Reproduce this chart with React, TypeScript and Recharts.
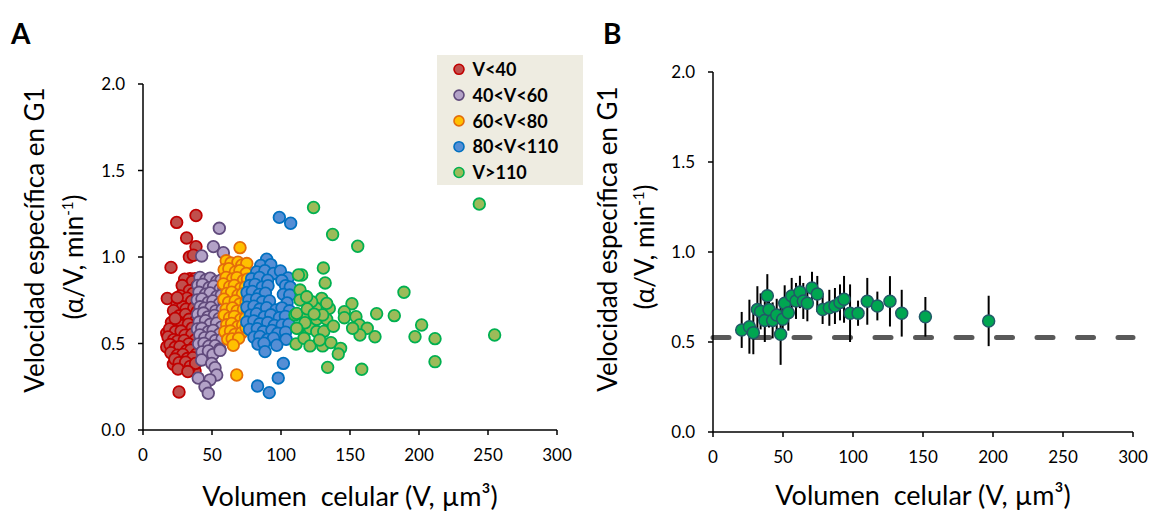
import React from "react";
import { ScatterChart, Scatter, XAxis, YAxis, ErrorBar, ReferenceLine } from "recharts";

const FONT = "Lato, 'Open Sans', sans-serif";

const xTicks = [0, 50, 100, 150, 200, 250, 300];
const yTicks = [0, 0.5, 1, 1.5, 2];

// Panel A: volume (um3) vs specific rate, grouped by volume class
const redPts: [number, number][] = [
  [38.4, 1.24], [24.4, 1.2], [31.6, 1.11], [38.4, 1.06], [33.6, 1.0], [36.5, 1.01], [20.3, 0.94],
  [34, 0.875], [37.7, 0.875], [17.6, 0.76], [26.8, 0.77], [26.1, 0.22], [37.7, 0.34], [29.2, 0.37],
  [22, 0.38], [17.2, 0.48], [17.2, 0.56],
  [30.2, 0.872], [35.8, 0.858], [38.9, 0.83], [28.4, 0.835], [33.6, 0.805], [36.4, 0.79], [27.1, 0.775],
  [31.9, 0.762], [35.3, 0.745], [39.6, 0.758], [24.6, 0.728], [28.7, 0.712], [31.2, 0.698], [36.8, 0.705],
  [39.1, 0.682], [22.1, 0.69], [26.4, 0.66], [30.8, 0.668], [33.5, 0.64], [38.3, 0.632], [20.6, 0.622],
  [25.2, 0.628], [28.1, 0.603], [32.9, 0.612], [35.7, 0.589], [39.8, 0.575], [19.2, 0.584], [23.6, 0.569],
  [27.6, 0.572], [30.4, 0.548], [35.4, 0.552], [37.9, 0.521], [18.1, 0.538], [22.2, 0.522], [25.1, 0.514],
  [29.9, 0.518], [33.1, 0.497], [37.2, 0.482], [19.6, 0.494], [23.4, 0.478], [26.7, 0.482], [31.6, 0.458],
  [34.6, 0.462], [38.7, 0.438], [20.2, 0.447], [24.9, 0.432], [28.9, 0.437], [32.2, 0.413], [36.1, 0.418],
  [23.1, 0.41], [26.2, 0.389], [30.9, 0.392], [34.3, 0.368], [38.1, 0.385], [25.4, 0.352], [32.5, 0.338],
  [23.3, 0.645], [24.8, 0.765],
];

const purplePts: [number, number][] = [
  [42.5, 1.006], [51, 1.06], [58.2, 1.025], [55.3, 1.166],
  [41.3, 0.882], [45.6, 0.868], [48.7, 0.878], [53.4, 0.859], [56.6, 0.866],
  [39.8, 0.836], [43.1, 0.842], [47.9, 0.823], [51.2, 0.831], [55.9, 0.814], [58.6, 0.818],
  [40.6, 0.796], [45.4, 0.785], [48.6, 0.792], [53.5, 0.772], [56.7, 0.778],
  [39.3, 0.752], [42.7, 0.758], [47.4, 0.738], [50.6, 0.746], [55.3, 0.729], [58.8, 0.738],
  [41.4, 0.712], [44.6, 0.704], [49.3, 0.708], [52.7, 0.688], [57.4, 0.696],
  [39.7, 0.668], [43.8, 0.676], [47.2, 0.654], [51.8, 0.662], [55.1, 0.643], [58.7, 0.652],
  [40.7, 0.624], [45.3, 0.632], [48.8, 0.611], [53.3, 0.617], [56.8, 0.594],
  [39.4, 0.584], [42.6, 0.588], [47.3, 0.568], [50.8, 0.576], [55.4, 0.554],
  [41.2, 0.549], [44.7, 0.534], [49.4, 0.538], [52.6, 0.517], [57.3, 0.526],
  [40.3, 0.498], [44.2, 0.501], [47.7, 0.484], [52.3, 0.487], [55.7, 0.468],
  [42.8, 0.451], [47.4, 0.457], [50.7, 0.436],
  [55.8, 0.46], [42.5, 0.405], [49.8, 0.385], [52.2, 0.36], [53.4, 0.318], [40, 0.3],
  [48.6, 0.29], [44.9, 0.25], [47.3, 0.212],
];

const orangePts: [number, number][] = [
  [70.3, 1.054],
  [60.3, 0.978], [63.7, 0.965], [68.8, 0.97], [71.6, 0.953], [75.2, 0.962],
  [58.8, 0.926], [62.2, 0.932], [66.9, 0.914], [70.2, 0.921], [74.8, 0.905],
  [60.2, 0.882], [64.9, 0.873], [68.1, 0.881], [72.8, 0.864], [75.7, 0.872],
  [58.3, 0.844], [62.8, 0.828], [66.2, 0.836], [70.9, 0.819], [74.2, 0.826],
  [60.8, 0.79], [64.2, 0.797], [68.9, 0.779], [72.1, 0.787], [75.8, 0.769],
  [58.7, 0.756], [62.1, 0.738], [66.8, 0.746], [70.2, 0.728], [74.7, 0.737],
  [60.3, 0.698], [64.8, 0.706], [68.2, 0.688], [72.8, 0.697], [75.6, 0.679],
  [58.9, 0.664], [62.7, 0.648], [66.3, 0.657], [70.8, 0.639], [74.3, 0.646],
  [60.7, 0.608], [64.2, 0.616], [68.8, 0.598], [72.2, 0.606],
  [59.3, 0.568], [63.4, 0.572], [66.7, 0.553], [71.3, 0.561], [74.6, 0.593],
  [61.4, 0.524], [64.6, 0.527], [69.3, 0.53], [65.4, 0.49], [67.9, 0.318],
];

const bluePts: [number, number][] = [
  [98.8, 1.229], [107, 1.195], [89.6, 0.987],
  [85.3, 0.951], [92.6, 0.956], [82.4, 0.914], [88.3, 0.921], [94.6, 0.905], [99.6, 0.919],
  [78.7, 0.874], [84.4, 0.882], [90.3, 0.866], [105.1, 0.879], [100.6, 0.864],
  [77.3, 0.835], [81.2, 0.842], [86.4, 0.826], [90.6, 0.834], [103.3, 0.834], [106.7, 0.826],
  [75.4, 0.795], [79.2, 0.801], [84.3, 0.784], [88.7, 0.791], [101.7, 0.784], [106.3, 0.78],
  [76.7, 0.75], [82.3, 0.758], [86.6, 0.741], [91.7, 0.746], [104.4, 0.735],
  [75.3, 0.71], [80.4, 0.716], [84.7, 0.699], [89.6, 0.707], [96.3, 0.694], [100.7, 0.706], [106.2, 0.689],
  [77.8, 0.664], [82.2, 0.672], [87.9, 0.654], [92.6, 0.666], [98.8, 0.649], [103.2, 0.657],
  [75.2, 0.624], [80.3, 0.631], [84.6, 0.614], [90.4, 0.621], [95.2, 0.604], [100.8, 0.607], [105.7, 0.611],
  [77.2, 0.581], [82.8, 0.586], [87.2, 0.569], [93.4, 0.576], [97.7, 0.559], [103.3, 0.566],
  [80.4, 0.536], [84.7, 0.541], [90.3, 0.524], [94.6, 0.531], [103.7, 0.524],
  [83.3, 0.497], [87.7, 0.502], [96.9, 0.49], [88.4, 0.453],
  [101.7, 0.385], [98, 0.3], [83, 0.254], [91.5, 0.216],
];

const greenPts: [number, number][] = [
  [123.6, 1.286], [243.7, 1.306], [137.4, 1.13], [155.6, 1.062], [130.7, 0.936], [132, 0.85],
  [115, 0.896], [112.6, 0.896], [189.1, 0.796], [151.4, 0.73], [145.9, 0.684], [145.9, 0.649],
  [154.3, 0.655], [169.3, 0.672], [182.1, 0.661], [201.9, 0.607], [197.1, 0.539], [211.6, 0.528],
  [254.8, 0.549], [211.6, 0.395], [156.8, 0.607], [162.5, 0.588], [168.1, 0.539], [157.2, 0.549],
  [151.9, 0.588], [133.8, 0.362], [158.5, 0.351], [135, 0.703], [129.5, 0.761], [133.1, 0.732],
  [125.4, 0.703], [122.2, 0.742], [118.1, 0.771], [113.8, 0.809], [113.8, 0.751], [110.1, 0.665],
  [116.7, 0.655], [121, 0.588], [125.9, 0.64], [133.1, 0.64], [130.2, 0.665], [112.5, 0.588],
  [110.9, 0.497], [116.7, 0.53], [121, 0.486], [130.2, 0.486], [136.2, 0.505], [143.2, 0.472],
  [141.5, 0.439], [118.6, 0.77], [111.4, 0.674], [117.4, 0.62], [111.4, 0.588], [125.9, 0.569],
  [131, 0.57], [138, 0.6], [128, 0.52], [119, 0.7], [124, 0.67],
];

// Panel B: binned means with error bars
const bX = [20.5, 26, 28.8, 31.7, 34, 37, 38.8, 40, 42.6, 45.5, 48.3, 49.8, 51.2, 53.8, 56.2, 59.3, 62.1, 64.5, 67.4, 70.7, 74.5, 78.3, 83.1, 87.1, 90.7, 93.6, 97.9, 103.6, 110.2, 117.4, 126.4, 134.8, 151.7, 196.9];
const bY = [0.567, 0.585, 0.552, 0.68, 0.67, 0.62, 0.757, 0.68, 0.62, 0.65, 0.543, 0.626, 0.715, 0.663, 0.756, 0.728, 0.778, 0.728, 0.715, 0.8, 0.767, 0.68, 0.69, 0.7, 0.72, 0.737, 0.66, 0.66, 0.726, 0.7, 0.726, 0.66, 0.64, 0.617];
const bErr = [0.1, 0.15, 0.12, 0.13, 0.1, 0.12, 0.12, 0.1, 0.1, 0.09, 0.17, 0.1, 0.1, 0.1, 0.1, 0.1, 0.09, 0.1, 0.1, 0.09, 0.1, 0.08, 0.1, 0.1, 0.1, 0.13, 0.16, 0.07, 0.13, 0.08, 0.14, 0.13, 0.11, 0.14];
const baseline = 0.525;

const groups = [
  { name: "V<40", pts: redPts, fill: "#c0504d", stroke: "#c00000" },
  { name: "40<V<60", pts: purplePts, fill: "#b3a2c7", stroke: "#604a7b" },
  { name: "60<V<80", pts: orangePts, fill: "#ffc000", stroke: "#e46c0a" },
  { name: "80<V<110", pts: bluePts, fill: "#558ed5", stroke: "#0070c0" },
  { name: "V>110", pts: greenPts, fill: "#9bbb59", stroke: "#00b050" },
];

const binData = bX.map((x, i) => ({ x, y: bY[i], err: bErr[i] }));

const dot = (fill: string, stroke: string, r: number, sw: number) => (props: any) =>
  <circle cx={props.cx} cy={props.cy} r={r} fill={fill} stroke={stroke} strokeWidth={sw} />;

const tickStyle = { fill: "#000", fontSize: 17, fontFamily: FONT };
const axisStroke = { stroke: "#000", strokeWidth: 1.5 };

function axes() {
  return [
    <XAxis
      key="x"
      type="number"
      dataKey="x"
      domain={[0, 300]}
      ticks={xTicks}
      interval={0}
      height={40}
      tickSize={5}
      tickMargin={14}
      axisLine={axisStroke}
      tickLine={axisStroke}
      tick={tickStyle}
      allowDataOverflow
    />,
    <YAxis
      key="y"
      type="number"
      dataKey="y"
      domain={[0, 2]}
      ticks={yTicks}
      interval={0}
      width={50}
      tickSize={5}
      tickMargin={13}
      tickFormatter={(v: number) => v.toFixed(1)}
      axisLine={axisStroke}
      tickLine={axisStroke}
      tick={tickStyle}
      allowDataOverflow
    />,
  ];
}

function YTitle({ x1, y1, x2, y2 }: { x1: number; y1: number; x2: number; y2: number }) {
  return (
    <g fontSize={26} fill="#000">
      <text x={x1} y={y1} textAnchor="middle" transform={`rotate(-90 ${x1} ${y1})`}>
        Velocidad específica en G1
      </text>
      <text x={x2} y={y2} textAnchor="middle" transform={`rotate(-90 ${x2} ${y2})`}>
        (α/V, min
        <tspan fontSize={15} dy={-10}>-1</tspan>
        <tspan dy={10}>)</tspan>
      </text>
    </g>
  );
}

const xTitle = "Volumen  celular (V, µm³)";

export default function App() {
  return (
    <div style={{ position: "absolute", left: 0, top: 0, width: 1150, height: 511, background: "#fff", fontFamily: FONT }}>
      <div style={{ position: "absolute", left: 0, top: 0 }}>
        <ScatterChart width={600} height={511} margin={{ top: 84, right: 43, bottom: 41, left: 93 }}>
          {axes()}
          {groups.map((g) => (
            <Scatter
              key={g.name}
              name={g.name}
              data={g.pts.map(([x, y]) => ({ x, y }))}
              shape={dot(g.fill, g.stroke, 5.8, 1.8)}
              isAnimationActive={false}
            />
          ))}
        </ScatterChart>
      </div>
      <div style={{ position: "absolute", left: 600, top: 0 }}>
        <ScatterChart width={550} height={511} margin={{ top: 72, right: 17, bottom: 39, left: 63 }}>
          {axes()}
          <ReferenceLine
            y={baseline}
            stroke="#595959"
            strokeWidth={5}
            strokeDasharray="16 24.5"
            strokeLinecap="round"
          />
          <Scatter data={binData} shape={dot("#00a651", "#215968", 6, 1.5)} isAnimationActive={false}>
            <ErrorBar dataKey="err" direction="y" width={0} stroke="#000" strokeWidth={2} isAnimationActive={false} />
          </Scatter>
        </ScatterChart>
      </div>
      <svg width={1150} height={511} style={{ position: "absolute", left: 0, top: 0, pointerEvents: "none" }} fontFamily={FONT}>
        <text x={11} y={44} fontSize={28} fontWeight="bold">A</text>
        <text x={603} y={44} fontSize={28} fontWeight="bold">B</text>
        <YTitle x1={44} y1={240} x2={83} y2={257} />
        <YTitle x1={617} y1={239} x2={654} y2={247} />
        <text x={350} y={506} fontSize={27} textAnchor="middle" style={{ whiteSpace: "pre" }}>{xTitle}</text>
        <text x={923} y={505} fontSize={27} textAnchor="middle" style={{ whiteSpace: "pre" }}>{xTitle}</text>
        <rect x={437} y={55} width={146} height={130} fill="#eeece1" />
        {groups.map((g, i) => (
          <g key={g.name}>
            <circle cx={459} cy={69.3 + i * 25.8} r={5} fill={g.fill} stroke={g.stroke} strokeWidth={1.6} />
            <text x={472.5} y={76 + i * 25.8} fontSize={18} fontWeight="bold" fill="#000">{g.name}</text>
          </g>
        ))}
      </svg>
    </div>
  );
}
